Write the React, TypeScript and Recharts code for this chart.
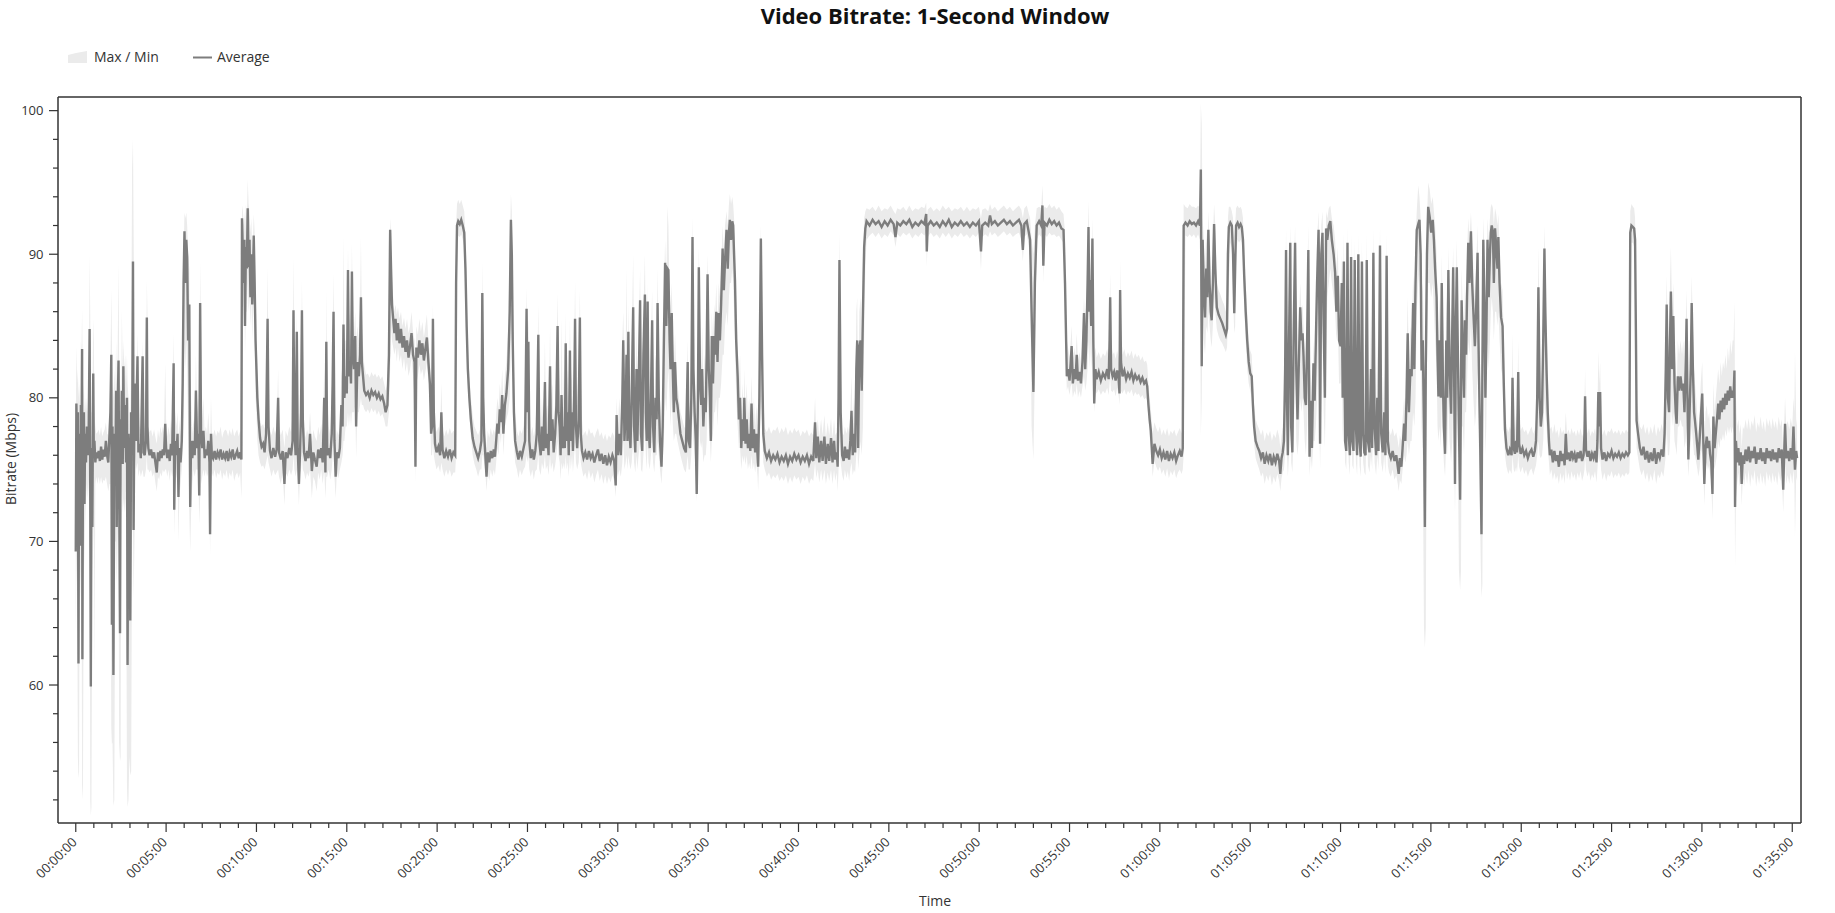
import React from "react";
import { ComposedChart, Area, Line, XAxis, YAxis } from "recharts";

// seconds from start of stream
const seconds = [
  0, 2, 5, 7, 9, 11, 13, 15, 17, 19,
  21, 22, 24, 27, 29, 31, 34, 37, 40, 43,
  46, 48, 50, 52, 55, 58, 60, 62, 65, 68,
  72, 76, 80, 84, 88, 92, 96, 100, 104, 108,
  112, 115, 118, 120, 122, 125, 128, 131, 134, 136,
  139, 142, 144, 147, 149, 151, 153, 156, 158, 161,
  164, 167, 170, 172, 175, 178, 181, 184, 187, 190,
  192, 195, 197, 200, 205, 208, 212, 216, 222, 225,
  229, 233, 236, 238, 241, 245, 250, 255, 260, 265,
  269, 273, 277, 281, 285, 289, 293, 297, 300, 304,
  308, 312, 316, 320, 325, 327, 330, 334, 338, 341,
  344, 348, 352, 355, 358, 361, 364, 367, 370, 373,
  377, 380, 383, 387, 391, 395, 399, 403, 407, 410,
  413, 416, 420, 424, 428, 432, 436, 440, 444, 446,
  449, 452, 456, 461, 466, 471, 476, 481, 486, 491,
  496, 501, 506, 511, 516, 521, 526, 531, 536, 541,
  546, 550, 552, 555, 558, 560, 562, 565, 568, 571,
  574, 577, 580, 583, 586, 589, 591, 594, 597, 600,
  603, 607, 612, 617, 622, 627, 632, 637, 640, 645,
  650, 656, 662, 667, 672, 675, 681, 687, 693, 697,
  703, 709, 715, 720, 723, 726, 730, 734, 737, 741,
  745, 748, 751, 754, 758, 763, 768, 773, 778, 784,
  789, 794, 800, 805, 810, 815, 820, 825, 829, 832,
  835, 840, 845, 850, 853, 856, 859, 863, 867, 872,
  877, 882, 886, 889, 892, 896, 900, 904, 907, 911,
  914, 917, 920, 924, 928, 931, 935, 940, 944, 947,
  950, 954, 958, 964, 970, 976, 982, 988, 994, 1000,
  1006, 1012, 1018, 1024, 1029, 1035, 1040, 1044, 1047, 1050,
  1054, 1058, 1062, 1066, 1070, 1075, 1080, 1085, 1090, 1095,
  1100, 1105, 1110, 1115, 1120, 1125, 1128, 1131, 1136, 1141,
  1146, 1151, 1156, 1161, 1166, 1171, 1176, 1180, 1183, 1186,
  1189, 1193, 1198, 1204, 1210, 1214, 1218, 1224, 1230, 1236,
  1242, 1248, 1254, 1260, 1263, 1266, 1270, 1275, 1280, 1285,
  1290, 1294, 1298, 1302, 1307, 1312, 1318, 1324, 1330, 1336,
  1342, 1347, 1350, 1353, 1356, 1360, 1364, 1368, 1373, 1378,
  1383, 1388, 1392, 1396, 1400, 1404, 1408, 1412, 1416, 1420,
  1425, 1430, 1436, 1441, 1445, 1448, 1451, 1455, 1459, 1465,
  1470, 1475, 1481, 1487, 1492, 1497, 1500, 1503, 1506, 1511,
  1516, 1521, 1526, 1531, 1536, 1539, 1544, 1548, 1553, 1558,
  1561, 1566, 1570, 1575, 1578, 1583, 1587, 1592, 1596, 1600,
  1603, 1607, 1610, 1613, 1617, 1621, 1624, 1627, 1630, 1634,
  1637, 1641, 1644, 1648, 1651, 1655, 1658, 1661, 1665, 1670,
  1674, 1677, 1681, 1686, 1692, 1698, 1704, 1710, 1716, 1722,
  1728, 1734, 1740, 1746, 1752, 1758, 1764, 1770, 1776, 1782,
  1788, 1793, 1796, 1800, 1805, 1810, 1815, 1818, 1822, 1826,
  1829, 1832, 1835, 1838, 1842, 1846, 1851, 1854, 1858, 1862,
  1865, 1869, 1874, 1877, 1881, 1885, 1890, 1893, 1896, 1899,
  1902, 1906, 1910, 1914, 1917, 1921, 1925, 1929, 1932, 1936,
  1940, 1945, 1949, 1953, 1957, 1961, 1965, 1968, 1972, 1975,
  1979, 1983, 1986, 1990, 1994, 1998, 2003, 2008, 2014, 2020,
  2026, 2032, 2035, 2040, 2044, 2048, 2051, 2055, 2059, 2062,
  2066, 2069, 2073, 2077, 2080, 2084, 2088, 2092, 2095, 2098,
  2102, 2106, 2109, 2112, 2116, 2120, 2123, 2127, 2131, 2135,
  2139, 2143, 2148, 2152, 2156, 2161, 2165, 2169, 2172, 2176,
  2180, 2183, 2186, 2189, 2193, 2198, 2202, 2206, 2210, 2214,
  2218, 2220, 2224, 2228, 2232, 2236, 2240, 2244, 2248, 2252,
  2256, 2260, 2264, 2266, 2270, 2275, 2279, 2283, 2288, 2295,
  2302, 2309, 2316, 2323, 2330, 2337, 2344, 2351, 2358, 2365,
  2372, 2379, 2386, 2393, 2400, 2407, 2414, 2421, 2428, 2435,
  2442, 2449, 2455, 2459, 2464, 2469, 2475, 2480, 2486, 2491,
  2497, 2502, 2508, 2513, 2518, 2522, 2527, 2530, 2533, 2536,
  2540, 2545, 2550, 2554, 2559, 2564, 2568, 2572, 2576, 2580,
  2584, 2588, 2592, 2595, 2598, 2602, 2606, 2610, 2614, 2618,
  2622, 2626, 2636, 2646, 2656, 2666, 2676, 2686, 2696, 2706,
  2716, 2722, 2728, 2738, 2748, 2758, 2768, 2778, 2788, 2798,
  2808, 2818, 2824, 2826, 2829, 2839, 2849, 2859, 2869, 2879,
  2889, 2899, 2909, 2919, 2929, 2939, 2949, 2959, 2969, 2979,
  2989, 2999, 3006, 3010, 3020, 3030, 3036, 3042, 3052, 3062,
  3072, 3082, 3092, 3102, 3112, 3122, 3132, 3140, 3145, 3150,
  3158, 3165, 3169, 3174, 3180, 3185, 3191, 3199, 3206, 3210,
  3213, 3217, 3225, 3233, 3241, 3249, 3257, 3265, 3273, 3280,
  3285, 3291, 3295, 3300, 3304, 3307, 3311, 3316, 3320, 3324,
  3328, 3333, 3338, 3343, 3348, 3352, 3356, 3360, 3363, 3366,
  3368, 3372, 3376, 3379, 3382, 3386, 3390, 3397, 3404, 3411,
  3418, 3425, 3430, 3433, 3435, 3438, 3443, 3448, 3453, 3458,
  3463, 3466, 3468, 3471, 3476, 3482, 3488, 3494, 3500, 3506,
  3512, 3518, 3524, 3530, 3536, 3542, 3548, 3554, 3558, 3562,
  3566, 3570, 3576, 3582, 3588, 3594, 3600, 3606, 3612, 3618,
  3624, 3630, 3636, 3642, 3648, 3654, 3660, 3666, 3672, 3676,
  3679, 3685, 3692, 3699, 3706, 3713, 3720, 3727, 3733, 3736,
  3739, 3742, 3746, 3750, 3754, 3758, 3761, 3765, 3769, 3772,
  3776, 3780, 3784, 3789, 3795, 3801, 3807, 3813, 3819, 3823,
  3826, 3829, 3834, 3839, 3843, 3847, 3850, 3853, 3858, 3863,
  3868, 3872, 3876, 3880, 3885, 3890, 3895, 3900, 3905, 3909,
  3913, 3918, 3924, 3930, 3936, 3942, 3948, 3954, 3960, 3966,
  3972, 3978, 3984, 3990, 3996, 4000, 4004, 4008, 4012, 4016,
  4019, 4022, 4025, 4029, 4033, 4036, 4040, 4044, 4049, 4053,
  4057, 4061, 4066, 4070, 4074, 4077, 4081, 4085, 4089, 4093,
  4097, 4101, 4105, 4110, 4114, 4118, 4122, 4127, 4130, 4132,
  4136, 4140, 4144, 4148, 4152, 4156, 4161, 4166, 4171, 4177,
  4182, 4186, 4191, 4195, 4200, 4204, 4207, 4211, 4215, 4219,
  4223, 4227, 4231, 4235, 4239, 4243, 4247, 4251, 4255, 4259,
  4263, 4267, 4271, 4275, 4279, 4283, 4287, 4291, 4296, 4301,
  4305, 4309, 4313, 4318, 4322, 4326, 4331, 4335, 4340, 4345,
  4349, 4353, 4357, 4361, 4367, 4373, 4379, 4385, 4390, 4393,
  4397, 4402, 4406, 4411, 4415, 4419, 4423, 4427, 4432, 4436,
  4441, 4445, 4449, 4453, 4458, 4462, 4466, 4469, 4473, 4477,
  4480, 4483, 4487, 4491, 4496, 4501, 4506, 4510, 4514, 4519,
  4522, 4525, 4529, 4533, 4536, 4540, 4543, 4547, 4551, 4554,
  4558, 4562, 4567, 4571, 4574, 4577, 4580, 4583, 4586, 4589,
  4593, 4597, 4600, 4602, 4606, 4610, 4613, 4617, 4620, 4624,
  4628, 4633, 4637, 4641, 4646, 4650, 4655, 4658, 4661, 4663,
  4666, 4668, 4671, 4674, 4678, 4681, 4684, 4688, 4692, 4696,
  4699, 4702, 4706, 4709, 4713, 4717, 4721, 4724, 4728, 4733,
  4738, 4742, 4746, 4751, 4757, 4762, 4768, 4771, 4775, 4779,
  4783, 4786, 4790, 4793, 4798, 4804, 4810, 4816, 4822, 4828,
  4834, 4840, 4845, 4849, 4853, 4857, 4861, 4865, 4869, 4873,
  4877, 4880, 4884, 4888, 4892, 4895, 4900, 4905, 4910, 4915,
  4920, 4925, 4930, 4935, 4940, 4944, 4948, 4952, 4957, 4962,
  4967, 4972, 4977, 4982, 4987, 4992, 4997, 5002, 5007, 5010,
  5012, 5015, 5020, 5025, 5030, 5035, 5040, 5045, 5050, 5053,
  5056, 5059, 5062, 5065, 5070, 5076, 5082, 5088, 5094, 5100,
  5106, 5112, 5118, 5124, 5130, 5136, 5142, 5148, 5154, 5159,
  5162, 5166, 5171, 5175, 5178, 5181, 5183, 5188, 5194, 5200,
  5206, 5212, 5218, 5224, 5230, 5236, 5242, 5248, 5254, 5260,
  5266, 5272, 5276, 5280, 5283, 5287, 5291, 5294, 5297, 5301,
  5305, 5309, 5313, 5316, 5320, 5324, 5329, 5334, 5338, 5342,
  5346, 5349, 5352, 5355, 5359, 5363, 5366, 5370, 5374, 5377,
  5381, 5385, 5388, 5392, 5396, 5401, 5404, 5408, 5412, 5416,
  5420, 5424, 5427, 5431, 5435, 5438, 5442, 5446, 5450, 5454,
  5458, 5462, 5466, 5470, 5474, 5478, 5482, 5486, 5490, 5494,
  5498, 5502, 5505, 5508, 5510, 5513, 5517, 5521, 5525, 5529,
  5532, 5536, 5540, 5545, 5550, 5555, 5560, 5565, 5570, 5575,
  5580, 5585, 5590, 5595, 5600, 5605, 5610, 5615, 5620, 5625,
  5630, 5635, 5640, 5645, 5650, 5655, 5660, 5665, 5670, 5673,
  5676, 5680, 5685, 5690, 5695, 5700, 5704, 5707, 5709, 5713,
  5716,
];

const avgMbps = [
  69.3, 79.6, 76.0, 79.0, 61.5, 77.5, 75.5, 69.7, 79.5, 76.0,
  83.4, 61.8, 76.5, 79.0, 72.6, 77.5, 75.5, 78.0, 76.0, 77.8,
  84.8, 74.0, 59.9, 76.5, 71.0, 81.7, 76.0, 77.0, 75.5, 76.2,
  75.8, 76.3, 75.6, 76.6, 75.7, 76.4, 75.9, 77.0, 76.0, 75.5,
  77.5, 79.0, 83.0, 64.2, 78.0, 60.7, 77.5, 74.0, 80.5, 71.0,
  79.0, 82.6, 74.1, 63.6, 78.5, 76.0, 80.5, 75.4, 82.2, 76.5,
  79.5, 75.5, 80.0, 61.4, 77.5, 76.0, 64.5, 79.0, 76.0, 89.5,
  70.8, 80.0, 81.0, 77.0, 82.9, 76.2, 76.8, 75.8, 82.9, 76.2,
  76.0, 77.0, 85.6, 78.0, 76.5, 76.0, 76.4, 75.8, 76.2, 75.4,
  74.8, 76.2, 75.6, 76.3, 75.8, 76.4, 76.0, 78.2, 76.5, 75.8,
  76.4, 75.6, 76.8, 76.0, 82.4, 72.2, 77.0, 76.0, 77.5, 73.1,
  76.5, 75.5, 77.0, 81.0, 88.0, 91.6, 88.0, 91.0, 89.8, 84.0,
  86.5, 72.4, 77.0, 75.8, 77.0, 76.0, 80.5, 76.5, 77.5, 73.2,
  86.6, 77.7, 76.5, 77.7, 75.8, 76.4, 76.0, 77.0, 75.5, 70.5,
  77.5, 76.0, 75.8, 76.3, 75.7, 76.2, 75.9, 76.4, 75.7, 76.1,
  75.8, 76.3, 75.6, 76.2, 75.9, 76.4, 75.7, 76.0, 76.3, 75.8,
  76.2, 75.7, 92.5, 90.0, 88.0, 91.0, 85.0, 90.5, 89.0, 93.2,
  89.1, 91.0, 87.0, 90.0, 86.5, 89.0, 91.3, 88.0, 84.0, 82.0,
  80.0, 78.5, 77.2, 76.6, 76.8, 76.2, 77.5, 85.5, 78.0, 76.3,
  75.8, 76.5, 75.9, 76.4, 80.0, 76.2, 75.7, 76.3, 74.0, 76.2,
  75.8, 76.5, 76.0, 77.0, 86.1, 78.0, 76.0, 84.6, 76.5, 74.0,
  76.4, 79.0, 86.1, 78.5, 76.2, 75.6, 76.3, 75.8, 77.5, 74.9,
  76.2, 75.7, 75.2, 76.4, 75.8, 76.5, 75.5, 80.0, 74.8, 83.9,
  76.0, 76.5, 75.8, 77.5, 81.0, 86.0, 77.0, 74.5, 76.2, 75.8,
  76.5, 79.5, 78.0, 85.1, 80.0, 81.5, 80.3, 88.9, 81.5, 82.5,
  81.0, 88.8, 83.0, 82.0, 84.3, 78.0, 82.5, 81.5, 83.0, 87.0,
  82.5, 81.5, 80.5, 80.2, 80.4, 80.0, 80.5, 80.2, 80.4, 80.0,
  80.3, 79.9, 80.1, 79.6, 79.0, 79.5, 83.0, 91.7, 89.0, 86.5,
  85.5, 84.5, 85.5, 84.0, 85.2, 83.8, 84.8, 83.5, 84.3, 83.2,
  84.0, 82.8, 83.6, 84.5, 83.0, 82.5, 75.2, 83.5, 82.8, 84.0,
  83.0, 83.8, 82.6, 83.4, 84.2, 82.5, 81.0, 77.5, 78.0, 85.5,
  79.0, 76.8, 76.2, 76.6, 76.0, 79.0, 76.4, 75.8, 76.3, 75.9,
  76.4, 75.8, 76.2, 76.0, 88.0, 92.0, 92.3, 92.1, 92.4, 92.0,
  91.5, 89.0, 85.0, 82.0, 80.0, 78.5, 77.2, 76.6, 76.2, 75.8,
  76.3, 77.0, 87.3, 80.0, 77.5, 76.0, 74.5, 76.2, 75.5, 76.3,
  75.8, 76.4, 75.9, 77.0, 78.2, 77.5, 79.2, 78.3, 80.2, 77.5,
  79.5, 80.3, 82.0, 86.0, 92.4, 90.0, 84.0, 79.0, 77.0, 76.2,
  75.7, 76.3, 75.9, 76.5, 77.0, 86.2, 79.0, 83.9, 77.0, 75.8,
  76.4, 75.7, 76.3, 77.5, 84.4, 77.0, 76.0, 78.0, 76.3, 81.1,
  76.5, 77.5, 76.0, 82.2, 77.0, 78.5, 76.2, 77.5, 79.5, 85.0,
  79.0, 78.0, 76.0, 80.2, 76.5, 78.0, 76.5, 83.8, 77.0, 79.0,
  76.0, 83.3, 77.0, 79.0, 76.3, 80.0, 85.5, 78.0, 76.5, 78.5,
  85.6, 77.5, 76.3, 75.8, 76.2, 75.7, 76.3, 75.8, 76.1, 75.5,
  76.0, 76.4, 75.6, 76.1, 75.4, 76.0, 75.3, 75.9, 75.5, 76.0,
  75.6, 73.9, 78.8, 76.0, 77.5, 76.0, 80.0, 84.0, 77.0, 79.0,
  83.0, 77.0, 84.6, 78.0, 76.5, 80.0, 86.3, 78.0, 76.2, 82.0,
  77.0, 80.5, 86.8, 77.5, 76.3, 83.0, 87.2, 79.0, 77.0, 86.7,
  78.0, 76.5, 80.0, 85.4, 78.0, 76.2, 80.0, 78.5, 86.6, 80.0,
  77.0, 75.2, 78.0, 84.0, 89.4, 85.0, 89.0, 88.9, 84.0, 82.0,
  85.9, 81.5, 79.0, 82.5, 80.0, 79.5, 78.5, 77.5, 77.0, 76.5,
  76.2, 82.5, 77.0, 76.5, 80.0, 91.2, 82.0, 79.0, 77.0, 73.3,
  80.0, 89.1, 81.0, 79.5, 82.0, 78.0, 80.0, 79.0, 83.0, 88.6,
  82.0, 80.0, 77.0, 84.3, 81.0, 84.3, 83.0, 86.0, 82.5, 85.9,
  84.0, 86.5, 90.4, 87.5, 89.5, 91.7, 89.0, 91.5, 92.4, 91.0,
  92.3, 92.0, 90.0, 88.2, 84.0, 81.5, 78.5, 80.0, 76.5, 78.5,
  77.0, 80.0, 76.8, 78.5, 76.5, 77.5, 76.3, 79.6, 76.5, 77.8,
  76.2, 77.5, 76.0, 75.2, 80.0, 91.1, 83.0, 77.5, 76.3, 75.8,
  76.2, 75.6, 76.0, 75.7, 76.1, 75.5, 75.9, 75.6, 76.0, 75.4,
  75.9, 75.6, 76.1, 75.7, 76.0, 75.5, 75.9, 75.6, 76.0, 75.4,
  75.9, 75.6, 78.3, 75.8, 77.3, 75.5, 77.0, 75.6, 77.3, 75.4,
  76.8, 75.6, 77.2, 75.5, 77.0, 75.7, 76.2, 75.2, 80.0, 89.6,
  79.0, 76.0, 75.6, 76.6, 75.8, 76.4, 75.7, 77.0, 79.1, 76.0,
  77.5, 76.2, 82.0, 84.0, 76.5, 83.5, 84.0, 80.5, 86.0, 90.5,
  91.8, 92.3, 92.0, 92.4, 92.1, 92.3, 91.9, 92.3, 92.0, 92.4,
  92.1, 91.2, 92.2, 92.0, 92.3, 92.1, 92.4, 91.9, 92.2, 92.0,
  92.3, 92.1, 92.8, 90.2, 92.0, 92.3, 92.0, 92.2, 91.9, 92.3,
  92.0, 92.4, 91.9, 92.2, 92.0, 92.3, 92.0, 92.2, 91.9, 92.2,
  92.0, 92.3, 90.2, 92.0, 92.2, 92.0, 92.7, 92.1, 92.3, 92.0,
  92.2, 92.4, 92.1, 92.3, 92.0, 92.2, 92.4, 92.0, 90.3, 92.1,
  92.3, 91.5, 91.0, 86.0, 80.4, 88.0, 92.0, 92.3, 92.0, 93.4,
  89.2, 92.2, 92.0, 92.4, 92.1, 92.3, 92.0, 92.2, 91.8, 91.7,
  88.0, 81.5, 82.0, 81.2, 82.5, 83.6, 81.0, 82.0, 81.3, 83.0,
  81.2, 81.8, 81.0, 82.5, 85.9, 82.0, 84.0, 88.0, 91.9, 86.0,
  88.2, 85.0, 91.1, 84.0, 79.6, 82.0, 81.3, 81.8, 81.2, 81.7,
  81.4, 82.0, 81.3, 84.0, 87.0, 82.0, 81.5, 81.8, 81.2, 81.9,
  81.3, 80.3, 87.5, 82.5, 81.5, 81.9, 81.3, 81.7, 81.4, 81.8,
  81.2, 81.6, 81.3, 81.5, 81.1, 81.4, 81.0, 81.2, 80.8, 79.5,
  78.5, 77.7, 75.4, 76.8, 76.3, 76.0, 76.4, 75.8, 76.2, 75.7,
  76.3, 75.6, 76.1, 75.8, 76.2, 75.6, 76.0, 76.3, 75.9, 76.5,
  92.0, 92.2, 92.0, 92.3, 92.1, 92.2, 92.0, 92.3, 92.0, 95.9,
  82.2, 91.0, 87.5, 85.6, 89.0, 87.0, 91.7, 88.0, 86.0, 85.4,
  88.0, 92.1, 89.0, 86.3, 85.8, 85.5, 85.2, 84.8, 84.4, 84.8,
  90.0, 91.9, 92.2, 92.0, 90.0, 85.9, 89.0, 92.0, 92.2, 91.9,
  92.1, 91.9, 91.0, 88.5, 86.0, 84.0, 82.5, 81.7, 81.5, 79.5,
  78.0, 77.0, 76.6, 76.3, 75.8, 76.2, 75.4, 76.0, 75.6, 76.1,
  75.3, 75.9, 75.5, 76.1, 75.6, 74.7, 75.8, 76.2, 77.0, 82.0,
  90.3, 80.0, 76.0, 84.0, 90.8, 78.0, 76.2, 84.0, 90.8, 82.0,
  78.5, 82.0, 86.3, 84.0, 84.5, 82.9, 80.0, 79.5, 84.0, 90.3,
  75.9, 79.8, 76.5, 82.4, 79.8, 84.0, 88.0, 91.7, 85.0, 76.8,
  90.0, 91.5, 85.0, 80.0, 91.8, 91.0, 92.0, 92.3, 91.0, 90.0,
  88.7, 86.0, 88.5, 84.0, 83.6, 88.0, 80.0, 89.5, 77.0, 76.3,
  90.8, 77.5, 76.0, 89.8, 77.0, 76.3, 89.6, 78.0, 76.0, 90.0,
  77.0, 75.9, 89.5, 77.5, 76.2, 76.0, 89.6, 77.0, 76.2, 82.0,
  76.5, 90.1, 78.0, 76.0, 80.0, 76.3, 90.6, 77.5, 76.2, 79.0,
  76.0, 89.9, 77.0, 76.2, 75.8, 76.3, 75.6, 76.0, 75.2, 74.7,
  75.8, 75.2, 76.5, 78.2, 77.0, 80.0, 84.5, 79.0, 82.0, 81.5,
  86.6, 82.0, 88.0, 91.7, 92.1, 92.4, 90.0, 81.9, 84.0, 78.0,
  71.0, 82.0, 90.0, 93.3, 92.6, 91.5, 92.4, 91.0, 89.0, 87.0,
  83.0, 80.1, 84.0, 80.0, 88.0, 81.0, 78.0, 76.1, 84.0, 80.0,
  88.9, 82.0, 78.9, 85.0, 89.1, 82.0, 74.0, 85.0, 89.1, 84.0,
  78.0, 72.9, 81.0, 86.8, 83.0, 80.0, 85.4, 83.0, 87.0, 90.8,
  88.0, 91.6, 88.0, 86.0, 83.6, 86.0, 90.1, 84.0, 80.0, 77.8,
  73.5, 70.5, 82.0, 91.0, 86.0, 80.0, 84.0, 91.0, 87.0, 90.0,
  91.5, 92.0, 91.5, 88.0, 91.8, 90.5, 89.0, 91.2, 88.0, 85.6,
  85.0, 81.0, 77.8, 76.5, 76.0, 76.4, 76.0, 81.4, 76.5, 76.1,
  77.0, 76.2, 81.8, 76.8, 76.1, 76.5, 76.0, 76.3, 75.8, 76.2,
  76.4, 75.9, 76.3, 77.0, 80.0, 87.7, 80.0, 78.0, 79.0, 84.0,
  90.4, 86.0, 81.9, 79.0, 77.0, 76.0, 76.4, 75.5, 76.3, 75.6,
  76.0, 75.2, 76.3, 75.6, 76.1, 75.3, 77.5, 75.7, 76.2, 75.6,
  76.3, 75.8, 76.1, 75.5, 76.2, 75.8, 76.3, 75.6, 76.0, 77.5,
  80.1, 76.4, 75.9, 76.3, 75.6, 76.1, 75.8, 76.3, 75.5, 77.0,
  80.4, 78.0, 80.4, 76.5, 75.7, 76.2, 75.6, 76.1, 75.9, 76.3,
  75.8, 76.1, 75.9, 76.2, 75.8, 76.1, 75.9, 76.2, 76.0, 76.2,
  91.5, 92.0, 91.9, 91.8, 91.0, 84.0, 78.4, 77.5, 76.5, 76.0,
  76.6, 75.7, 76.3, 75.5, 76.2, 75.6, 76.5, 75.4, 76.2, 75.8,
  76.4, 75.9, 77.5, 82.0, 86.5, 80.0, 79.0, 84.0, 87.4, 82.0,
  85.7, 81.0, 79.0, 78.2, 81.5, 80.5, 81.5, 80.5, 81.0, 79.0,
  82.0, 85.5, 80.0, 75.7, 79.0, 82.0, 86.6, 82.0, 79.0, 78.4,
  77.5, 76.5, 75.7, 77.0, 78.5, 80.3, 77.5, 74.0, 76.5, 77.3,
  76.5, 77.0, 76.1, 75.5, 73.3, 78.7, 76.5, 77.5, 78.5, 79.6,
  78.5, 79.8, 79.0, 80.0, 79.2, 80.3, 79.5, 80.5, 79.8, 80.8,
  80.0, 80.5, 80.0, 81.9, 72.4, 77.0, 75.5, 76.5, 75.3, 76.2,
  74.0, 76.0, 75.4, 76.4, 75.6, 76.6, 75.5, 76.3, 75.8, 76.6,
  75.4, 76.2, 75.7, 76.5, 75.6, 76.2, 75.4, 76.5, 75.8, 76.3,
  75.6, 76.4, 75.7, 76.2, 75.5, 76.5, 75.8, 76.4, 73.6, 76.0,
  78.2, 75.8, 76.3, 75.6, 76.5, 75.7, 78.0, 76.0, 75.0, 76.3,
  75.8,
];

const minMbps = [
  63.5, 69, 66, 55, 53.5, 54, 70, 66, 68, 70,
  53, 52, 53, 72, 68, 71, 73, 74, 73, 74,
  75, 52, 50.9, 51.5, 67, 70, 72, 60.7, 74, 74.5,
  74, 74.5, 74, 74.5, 74, 74.3, 74.2, 74.5, 74, 73.5,
  74, 74, 57, 55.9, 56, 51.6, 52, 70, 70, 67,
  70, 72, 56, 54.7, 55, 73, 74, 72, 73, 72,
  73, 72, 53, 51.5, 52, 55, 53.7, 54, 71, 70.8,
  66, 70, 76, 75, 75.5, 74.5, 75, 74.5, 75, 74.5,
  74.5, 75, 76, 75, 75, 74.8, 75, 74.5, 74.8, 74,
  73.5, 74.5, 74.3, 74.8, 74.5, 75, 74.8, 75, 75, 74.5,
  75, 74.2, 75, 74.5, 75, 70.4, 74, 74.5, 75, 70,
  73, 74, 75, 76, 78, 84, 82, 84, 82, 78,
  72, 69.3, 72, 74, 75, 74.5, 75, 75, 75, 71.2,
  73, 74, 74.5, 75, 74.5, 75, 74.5, 74.8, 73, 69,
  74.5, 74.8, 74.5, 75, 74.4, 74.8, 74.6, 75, 74.3, 74.8,
  74.5, 75, 74.3, 74.8, 74.5, 75, 74.2, 74.6, 74.8, 74.4,
  74.8, 73, 75, 88, 85, 87, 83, 86, 86, 88,
  86, 87, 85, 87, 84, 86, 87, 85, 80, 79,
  77, 76, 75.5, 75.2, 75.3, 75, 75.5, 76, 75.5, 75,
  74.5, 75, 74.6, 74.8, 75, 74.5, 74, 74.8, 72.5, 74.8,
  74.5, 75, 74.6, 75, 76, 75, 74.5, 75, 74.5, 72.5,
  74.8, 75, 76, 75, 74.8, 74.3, 74.8, 74.5, 75, 73,
  74.5, 74.2, 73.5, 74.8, 74.3, 75, 74, 75, 73, 74.5,
  74.5, 75, 74.3, 75, 76, 77, 74.5, 73, 74.8, 74.4,
  75, 75.5, 76, 77, 77, 78, 78, 79, 78, 79,
  78, 79, 79, 79, 79.5, 75.8, 79, 79, 79.5, 80,
  79.5, 79.5, 79.2, 79, 79.2, 78.9, 79.3, 79, 79.2, 78.8,
  79.1, 78.7, 78.9, 78.5, 78, 78, 79, 82, 85, 84,
  83.5, 83, 83.5, 82.5, 83.5, 82.5, 83, 82, 82.8, 81.8,
  82.5, 81.5, 82, 82.8, 81.5, 80, 74, 81, 81.5, 82.3,
  81.6, 82, 81.2, 81.8, 82.5, 81, 79.5, 76, 76, 77,
  76, 75.5, 75, 75.3, 74.8, 75.5, 75, 74.5, 75, 74.6,
  75, 74.5, 74.8, 74.8, 76, 89, 91.3, 91.2, 91.4, 91,
  90.5, 87, 83, 80.5, 78.8, 77.3, 76, 75.4, 75, 74.5,
  75, 75, 76, 76, 75.5, 74.8, 73.5, 74.8, 74.2, 75,
  74.5, 75, 74.6, 75.5, 76.5, 76, 77.5, 76.8, 78.5, 76,
  78, 78.5, 79, 80, 84, 85, 80, 77, 75.5, 75,
  74.4, 75, 74.6, 75, 75.2, 76, 75.5, 76, 75, 74.5,
  75, 74.3, 74.9, 75, 76, 75, 74.6, 75.5, 75, 76,
  75, 75.3, 74.6, 76, 75, 75.5, 74.8, 75.3, 76, 77,
  76, 75.5, 74.3, 75.5, 75, 75.5, 75, 76, 75, 75.5,
  74.5, 76, 75, 76, 74.8, 76, 77, 75.5, 75, 75.5,
  77, 75.5, 75, 74.5, 74.8, 74.3, 75, 74.4, 74.8, 74.1,
  74.6, 75, 74.2, 74.7, 74, 74.6, 74, 74.5, 74.1, 74.6,
  74.2, 73.1, 75, 74.5, 75, 74.5, 75.5, 77, 75, 75.5,
  76, 75, 76, 75.5, 75, 75.5, 77, 75.5, 74.8, 76,
  75, 76, 77, 75, 74.8, 76, 78, 76, 75, 77,
  75.5, 75, 76, 77, 75.5, 74.8, 76, 76, 77, 76,
  75, 74, 75.5, 77, 80, 79, 81, 82, 80, 78,
  80, 78, 77, 77.5, 77.5, 77, 76.5, 76, 75.5, 75,
  74.8, 76, 75, 75, 76, 79, 77, 76, 75, 72.8,
  75, 79, 77, 76.5, 77, 75.5, 76, 76, 77, 80,
  78, 77, 75.5, 77, 77.5, 79, 79, 80, 78, 80,
  80, 81, 83, 83, 85, 86, 85, 87, 88, 88,
  89, 88, 86, 84, 80, 78, 76.5, 76.5, 75, 76,
  75.5, 76, 75.3, 76, 75, 75.5, 75, 76, 75, 75.5,
  74.8, 75.5, 74.5, 73.5, 76, 80, 78, 75.5, 75, 74.5,
  74.8, 74.3, 74.6, 74.4, 74.7, 74.2, 74.5, 74.2, 74.6, 74,
  74.5, 74.1, 74.6, 74.3, 74.5, 74, 74.5, 74.2, 74.6, 74,
  74.4, 74.2, 75.5, 74.4, 75, 74.1, 75, 74.2, 75, 74,
  74.8, 74.2, 75, 74, 75, 74.2, 74.8, 73.5, 75, 78,
  75.5, 74.6, 74.2, 75, 74.4, 74.9, 74.2, 75, 75.5, 74.6,
  75, 74.8, 76, 77, 75, 76, 77, 76, 78, 84,
  89, 91, 91.3, 91.5, 91.2, 91.5, 91.1, 91.4, 91.2, 91.6,
  91.3, 90.5, 91.4, 91.2, 91.5, 91.3, 91.5, 91.1, 91.4, 91.2,
  91.5, 91.3, 91.5, 89.1, 91.2, 91.5, 91.2, 91.4, 91.1, 91.5,
  91.2, 91.5, 91.1, 91.4, 91.2, 91.5, 91.2, 91.4, 91.1, 91.4,
  91.2, 91.5, 88.9, 91.2, 91.4, 91.2, 91.6, 91.3, 91.5, 91.2,
  91.4, 91.6, 91.3, 91.5, 91.2, 91.4, 91.5, 91.0, 89.5, 91.2,
  91.4, 90.5, 89.5, 78, 75.7, 82, 91, 91.4, 91.2, 91.5,
  88, 91.4, 91.2, 91.5, 91.3, 91.4, 91.2, 91.3, 91, 90.8,
  85, 80.5, 80.8, 80.2, 80.8, 81, 80, 80.5, 80.2, 81,
  80, 80.5, 80, 80.8, 81.5, 80.5, 81, 82, 84, 82,
  84, 82, 84, 81, 79, 80.5, 80.3, 80.6, 80.2, 80.5,
  80.3, 80.7, 80.2, 81, 81.5, 80.5, 80.4, 80.6, 80.1, 80.7,
  80.2, 79.5, 81, 80.5, 80.3, 80.6, 80.2, 80.5, 80.3, 80.6,
  80.1, 80.4, 80.2, 80.3, 80, 80.2, 79.9, 80, 79.8, 78.5,
  77.3, 76.5, 74.5, 75.6, 75.2, 74.9, 75.2, 74.7, 75, 74.5,
  75.1, 74.4, 74.9, 74.6, 75, 74.4, 74.8, 75, 74.7, 75,
  76, 91.3, 91.2, 91.4, 91.2, 91.4, 91.1, 91.4, 91, 77.3,
  80, 86, 84, 83, 85, 84.5, 86, 85, 84, 83.5,
  85, 87, 86, 84.8, 84.3, 84, 83.8, 83.5, 83.2, 83.5,
  85, 88, 90.8, 90.5, 87, 84.5, 85, 90, 91, 90.8,
  91, 90.8, 89.5, 86.5, 84, 82, 81, 80.5, 80, 78,
  76.8, 75.8, 75.4, 75, 74.5, 74.8, 74, 74.6, 74.2, 74.7,
  73.9, 74.5, 74.1, 74.7, 74.2, 73.5, 74.4, 74.8, 75, 76,
  80, 76, 74.5, 76, 82, 75.5, 74.8, 77, 82, 77,
  76, 77, 80, 79, 80, 79, 77, 76, 78, 82,
  74.5, 76, 75, 77, 77, 78, 80, 85, 78, 75,
  80, 87, 79, 76.5, 82, 87, 88, 89, 88, 87,
  86, 84, 85, 81, 81, 83, 77, 80, 75.5, 75,
  79, 75.5, 74.6, 79, 75.3, 75, 79, 75.5, 74.6, 79,
  75.3, 74.5, 79, 75.5, 74.8, 74.6, 79, 75.3, 74.8, 76,
  75, 80, 75.5, 74.6, 76, 75, 80, 75.5, 74.8, 76,
  74.7, 79, 75.3, 74.8, 74.5, 75, 74.3, 74.6, 74, 73.5,
  74.3, 74, 75, 76, 75.5, 76, 77, 76, 77, 77,
  79, 78, 80, 86, 88, 89, 84, 78, 76, 64,
  62.6, 64, 82, 88, 88, 87, 88, 86, 84, 82,
  78, 77, 78, 76.5, 80, 77, 75.5, 74.5, 77, 76,
  80, 77, 75.5, 77, 80, 76, 72, 76, 80, 78,
  68, 66.6, 68, 78, 78, 76, 79, 79, 81, 84,
  83, 85, 82, 80, 78, 79, 82, 78, 75, 72,
  68, 66.1, 67, 83, 80, 76, 78, 84, 82, 84,
  86, 87, 86, 84, 86, 86, 85, 86, 84, 82,
  81.5, 78, 76, 75.2, 74.7, 75, 74.7, 76, 75, 74.8,
  75.2, 74.8, 76, 75.2, 74.8, 75.2, 74.7, 75, 74.5, 74.9,
  75.1, 74.6, 75, 75.3, 76, 77, 76, 75.8, 76, 77,
  80, 79, 78, 76.5, 75.5, 74.6, 75, 74.3, 74.8, 74.3,
  74.6, 74, 74.8, 74.2, 74.7, 74, 75.2, 74.3, 74.8, 74.2,
  74.9, 74.4, 74.7, 74.2, 74.8, 74.4, 74.9, 74.2, 74.6, 75,
  76, 75, 74.5, 74.9, 74.2, 74.7, 74.4, 74.9, 74.1, 75,
  76, 75.5, 76, 75, 74.3, 74.8, 74.2, 74.7, 74.5, 74.9,
  74.4, 74.7, 74.5, 74.8, 74.4, 74.7, 74.5, 74.8, 74.6, 74.8,
  77, 90.8, 90.8, 90.5, 89, 80, 76.5, 75.8, 75, 74.6,
  75, 74.3, 74.8, 74.1, 74.7, 74.2, 75, 74, 74.7, 74.4,
  74.9, 74.5, 75.2, 76, 78, 76, 76, 77, 80, 78,
  79, 77, 76.5, 76, 78, 78, 78.5, 78, 78, 76.5,
  77, 78, 76, 74.5, 76, 77, 78, 77, 76, 76,
  75.5, 75, 74.5, 75, 76, 76.5, 75.5, 72.5, 75, 75.5,
  75, 75.3, 74.7, 74.2, 71.5, 75.5, 75, 75.5, 76, 77,
  76.5, 77.2, 77, 77.5, 77, 77.8, 77.3, 78, 77.5, 78,
  77.5, 78, 77.5, 78, 68.2, 73, 74, 74.8, 73.8, 74.6,
  72.5, 74.5, 73.8, 74.8, 74, 75, 73.8, 74.7, 74.2, 75,
  73.8, 74.6, 74, 74.8, 74, 74.6, 73.8, 74.9, 74.2, 74.7,
  74, 74.8, 74.1, 74.6, 73.9, 74.9, 74.2, 74.6, 72, 74.2,
  75.5, 74, 74.6, 74, 74.8, 74, 75, 74, 70.3, 74.5,
  74.2,
];

const maxMbps = [
  78, 83.6, 81, 82, 80, 81, 80, 79, 84, 83,
  86.2, 84, 80, 81, 79, 80, 79, 80, 79, 80,
  90, 86, 80, 79, 79, 85.5, 84, 79, 78, 77.5,
  77.6, 77.8, 77.4, 78, 77.3, 77.6, 77.8, 78.3, 77.5, 77.4,
  79, 82, 87.6, 84, 81, 80, 82, 80, 84, 81,
  83, 89.4, 83, 80, 81, 80, 86.1, 82, 84, 82,
  83, 81, 83, 81, 80, 79, 79, 82, 96, 98,
  92, 83, 83, 80, 84.5, 80, 78, 77.8, 84, 79,
  77.5, 79, 88.2, 86, 78, 77.6, 77.8, 77.3, 77.8, 77.2,
  76.8, 77.8, 77.2, 78, 77.5, 78, 77.6, 82.4, 78.5, 77.3,
  78, 77.4, 78.5, 77.8, 84.5, 80, 79, 78, 79, 77,
  78.5, 77.3, 79, 84, 90, 92.9, 92.5, 92.9, 92, 90,
  89, 82, 80, 77.5, 78.5, 77.6, 83, 79, 80, 78,
  89.5, 84, 78.5, 80, 77.5, 78, 77.5, 79, 77.5, 76,
  80, 77.6, 77.4, 77.8, 77.3, 77.7, 77.5, 78, 77.2, 77.6,
  77.8, 77.7, 77.3, 77.8, 77.4, 77.9, 77.3, 77.6, 77.8, 77.3,
  77.7, 77.5, 93.4, 93, 92, 93, 91.5, 93.5, 92.5, 95.2,
  93.5, 93, 91.5, 92.5, 90, 91.5, 92.8, 91.5, 88, 85,
  82, 80, 78.5, 78, 78.2, 77.8, 80, 89.1, 83, 77.8,
  77.4, 78, 77.5, 77.9, 82, 78, 77.4, 77.8, 76.5, 77.7,
  77.3, 78, 77.6, 79, 89.8, 84, 78, 86, 80, 76.5,
  78, 81, 88.2, 83, 78, 77.2, 77.8, 77.4, 79, 76.8,
  77.8, 77.3, 77, 78, 77.4, 78.2, 77.3, 82, 77, 87.5,
  80, 78, 77.4, 80, 84, 88.7, 82, 77, 77.8, 77.4,
  78, 82, 81, 91.3, 84, 84, 83, 90.5, 86, 85,
  84, 90.8, 86, 84.5, 86, 84, 85, 84, 86, 91.2,
  85, 83.5, 82.3, 81.6, 81.7, 81.4, 81.8, 81.5, 81.7, 81.4,
  81.6, 81.3, 81.5, 81, 80.5, 81, 86, 92.5, 91.5, 88.5,
  87, 86, 86.5, 85.8, 86.3, 85.5, 86, 85, 85.6, 84.8,
  85.5, 84.5, 85, 86, 84.6, 84, 82, 85, 84.4, 85.5,
  84.6, 85.3, 84.2, 85, 85.8, 84, 83, 80, 81, 86.5,
  83, 78.2, 77.6, 78, 77.5, 81, 77.8, 77.3, 77.8, 77.4,
  77.9, 77.5, 77.7, 77.6, 92, 93.5, 93.8, 93.5, 93.8, 93.4,
  93, 91.5, 87.5, 84, 81.5, 80, 78.8, 78, 77.7, 77.4,
  77.8, 80, 89.5, 84, 79, 77.6, 76.5, 77.7, 77.2, 77.9,
  77.4, 77.8, 77.5, 78.8, 80, 79.2, 81, 80, 82, 79.5,
  81.5, 82.5, 85, 90, 94.2, 93, 88, 82, 79, 77.7,
  77.3, 77.8, 77.5, 78, 79.5, 87.7, 84, 85.5, 80, 77.4,
  78, 77.3, 77.9, 80, 86.5, 81, 77.6, 80, 78, 84,
  79, 79.5, 77.7, 85, 80, 81, 78, 80, 82, 87.3,
  83, 81, 78, 85.5, 79, 82, 79, 86, 80, 82,
  78, 85.5, 81, 82, 78, 83, 88.1, 83, 80, 82,
  87.5, 82, 78.5, 77.4, 77.7, 77.3, 77.9, 77.5, 77.6, 77.2,
  77.6, 77.9, 77.3, 77.6, 77.1, 77.5, 77, 77.4, 77.2, 77.6,
  77.3, 76.5, 80, 78, 80, 78, 84, 86, 82, 83,
  89, 81, 86.5, 82, 79, 84, 90, 83, 79, 85,
  80, 84, 89, 82, 79, 86, 90, 84, 80, 88,
  83, 79, 84, 87.5, 82, 79, 83, 82, 89, 84,
  80, 77, 81, 87, 91, 88, 93.3, 92, 87, 86,
  88, 84, 82, 84.5, 82, 81, 80, 79, 78.5, 78,
  77.8, 84, 80, 78, 84, 92.6, 88, 82, 80, 77,
  84, 90.5, 86, 82, 85, 81, 83, 82, 86, 90,
  86, 83, 80, 86, 84, 86.5, 85.5, 88, 85, 88,
  87, 89, 92, 90, 92, 93, 92, 93.5, 94.2, 93.5,
  94, 93.5, 92.5, 91, 87, 84, 81, 83, 78.5, 81,
  79, 82, 79, 81, 78.5, 80, 78.5, 81.5, 78.5, 80,
  78, 79.5, 78, 77, 85, 92, 87, 80, 77.9, 77.6,
  78, 77.5, 77.8, 77.7, 78, 77.5, 77.9, 77.6, 78, 77.4,
  77.8, 77.5, 77.9, 77.6, 77.8, 77.3, 77.7, 77.5, 77.8, 77.3,
  77.6, 77.4, 80, 77.5, 78.5, 77.3, 78.5, 77.4, 78.8, 77.2,
  78.3, 77.4, 78.6, 77.2, 78.5, 77.4, 77.6, 76.8, 84, 91.5,
  84, 77.6, 77.4, 78, 77.5, 78, 77.5, 79, 81.5, 78,
  80, 79, 86, 87, 80, 86, 87, 84, 90, 92.5,
  93, 93.2, 93.1, 93.3, 93.0, 93.4, 93.0, 93.2, 93.1, 93.4,
  93.0, 92.8, 93.2, 93.1, 93.3, 93.0, 93.4, 93.0, 93.2, 93.1,
  93.3, 93.2, 93.6, 92.5, 93.1, 93.3, 93.0, 93.2, 93.0, 93.4,
  93.1, 93.3, 93.0, 93.2, 93.1, 93.3, 93.0, 93.3, 93.0, 93.2,
  93.1, 93.3, 92.5, 93.1, 93.2, 93.0, 93.5, 93.1, 93.3, 93.0,
  93.2, 93.4, 93.1, 93.3, 93.0, 93.2, 93.4, 93.1, 92.5, 93.2,
  93.4, 92.8, 92.5, 91, 90, 92, 93.2, 93.3, 93.2, 94.8,
  93, 93.3, 93.2, 93.5, 93.2, 93.4, 93.1, 93.3, 93, 92.8,
  91.5, 84, 83.5, 82.8, 84, 85, 82.6, 83.5, 82.8, 84.5,
  82.6, 83.2, 82.5, 84, 87, 85, 87, 91, 93.7, 90,
  90, 88, 92.5, 88, 83, 83.5, 82.8, 83.2, 82.7, 83.1,
  82.9, 83.4, 82.8, 86, 88.7, 84, 83, 83.2, 82.7, 83.3,
  82.8, 82, 89.6, 85, 83, 83.4, 82.8, 83.2, 82.9, 83.3,
  82.7, 83.1, 82.8, 83, 82.6, 82.9, 82.5, 82.6, 82.3, 81,
  80, 79.2, 77.5, 78.3, 77.9, 77.6, 78, 77.4, 77.8, 77.4,
  77.9, 77.3, 77.7, 77.5, 77.8, 77.3, 77.6, 77.9, 77.5, 78,
  93.5, 93.3, 93.2, 93.5, 93.3, 93.3, 93.2, 93.4, 93.2, 100.5,
  99, 92.5, 91, 89, 91.5, 90, 93, 91, 88, 87,
  91, 93.5, 92, 88, 87.5, 87.2, 86.8, 86.5, 86, 86.5,
  92.5, 93.3, 93.3, 93, 92.5, 89, 92, 93.2, 93.4, 93.2,
  93.3, 93.1, 92.5, 90.5, 88, 86, 84, 83.3, 83, 81,
  79.5, 78.5, 78.1, 77.8, 77.4, 77.8, 77, 77.6, 77.3, 77.7,
  77, 77.5, 77.2, 77.8, 77.3, 76.5, 77.4, 78, 79, 86,
  91.8, 86, 78, 88, 92, 85, 78, 88, 92, 86,
  82, 85, 88, 86, 86.5, 85, 83, 82, 88, 92,
  80, 82, 79, 84, 82, 87, 91, 93, 90, 80,
  92, 93, 89, 84, 93, 92.5, 93.2, 93.4, 92.5, 92,
  91, 89, 90.5, 86, 85.5, 90, 84, 91.5, 82, 79,
  92, 83, 78.5, 91.5, 82, 79, 91, 83, 78, 91.5,
  82, 78, 91, 82, 78.5, 78, 91.5, 82, 79, 86,
  80, 91.8, 84, 78, 84, 79, 92, 83, 78.5, 82,
  78, 91.5, 82, 77.8, 77.4, 77.9, 77.3, 77.6, 77, 76.5,
  77.4, 77, 78.5, 80, 79, 83, 87, 82, 85, 84,
  88.5, 87, 91, 93, 94.8, 94, 92.5, 87, 88, 84,
  80, 88, 92.5, 95, 94.5, 93.5, 94, 93, 92, 90,
  87, 84, 87, 84, 90, 85, 83, 80, 87, 85,
  90.5, 86, 83, 88, 90.5, 86, 80, 88, 91, 87,
  82, 78, 85, 89, 86, 84, 88, 86, 90, 92.5,
  91, 92.9, 91, 89, 87, 89, 92, 88, 85, 82,
  78, 76, 88, 92.5, 90, 85, 88, 92.5, 91, 92.5,
  93.3, 93.5, 93.2, 92, 93.2, 92.8, 92, 92.8, 90.5, 88,
  87.5, 84, 80, 78, 77.6, 78, 77.6, 84.5, 78.5, 77.7,
  79, 78, 84, 79, 77.7, 78, 77.6, 77.8, 77.4, 77.7,
  78, 77.5, 77.8, 78.5, 83, 90.5, 85, 81, 82, 87,
  92, 89, 85, 82, 79, 77.8, 78, 77.5, 78.2, 77.5,
  77.8, 77.2, 78, 77.5, 77.8, 77.3, 79, 77.5, 77.8, 77.4,
  77.9, 77.5, 77.7, 77.3, 77.8, 77.4, 77.9, 77.3, 77.6, 79.5,
  82, 78.5, 77.5, 77.9, 77.3, 77.7, 77.5, 77.9, 77.2, 79,
  83.3, 81, 82.5, 78.5, 77.4, 77.8, 77.3, 77.7, 77.6, 77.9,
  77.5, 77.7, 77.5, 77.8, 77.4, 77.7, 77.5, 77.8, 77.6, 77.8,
  93, 93.5, 93.3, 93.2, 92.5, 88, 80, 79, 78, 77.8,
  78.2, 77.5, 78, 77.4, 78, 77.5, 78.2, 77.3, 78, 77.6,
  78.2, 77.6, 80, 85, 88.5, 84, 83, 88, 90.5, 86,
  88, 84, 82, 80.5, 84, 83, 84, 83, 84, 82,
  85, 87.5, 84, 78, 82, 85, 88.5, 85, 82, 81,
  80, 78.5, 77.5, 79, 81, 82.5, 80, 76.5, 79, 79.5,
  78.5, 79, 78, 77.5, 76, 81, 79, 80, 81, 82,
  81, 82.5, 81.5, 82.5, 82, 83, 82, 83.5, 82.5, 84,
  83, 84, 84, 86.7, 80, 80, 78, 78.5, 77.5, 78.2,
  76.5, 78, 77.8, 78.5, 77.8, 78.6, 77.7, 78.4, 78, 78.8,
  77.6, 78.3, 77.9, 78.7, 77.8, 78.4, 77.6, 78.6, 78, 78.5,
  77.8, 78.6, 77.9, 78.4, 77.7, 78.7, 78, 78.5, 76, 78,
  80, 78, 78.4, 77.8, 78.6, 78, 80, 79, 83.3, 78.5,
  78,
];

const xMinorTicks = Array.from({ length: 96 }, (_, i) => i * 60);
const yMinorTicks = [52, 54, 56, 58, 60, 62, 64, 66, 68, 70, 72, 74, 76, 78, 80, 82, 84, 86, 88, 90, 92, 94, 96, 98, 100];

const rows = seconds.map((t, i) => ({
  t,
  avg: avgMbps[i],
  band: [minMbps[i], maxMbps[i]],
}));

const FONT = '"Open Sans", "Noto Sans", sans-serif';
const INK = "#333";

const pad = (n: number) => String(n).padStart(2, "0");
const fmtTime = (s: number) =>
  `${pad(Math.floor(s / 3600))}:${pad(Math.floor((s % 3600) / 60))}:${pad(s % 60)}`;

function XTick(props: any) {
  const { x, y, payload } = props;
  const major = payload.value % 300 === 0;
  return (
    <g>
      <line x1={x} y1={y} x2={x} y2={y + (major ? 9 : 5)} stroke={INK} strokeWidth={1.2} />
      {major && (
        <text
          transform={`translate(${x + 2},${y + 20}) rotate(-45)`}
          textAnchor="end"
          fontSize={13}
          fontFamily={FONT}
          fill={INK}
        >
          {fmtTime(payload.value)}
        </text>
      )}
    </g>
  );
}

function YTick(props: any) {
  const { x, y, payload } = props;
  const major = payload.value % 10 === 0;
  return (
    <g>
      <line x1={x - (major ? 9 : 5)} y1={y} x2={x} y2={y} stroke={INK} strokeWidth={1.2} />
      {major && (
        <text x={x - 14.5} y={y + 4.5} textAnchor="end" fontSize={13} fontFamily={FONT} fill={INK}>
          {payload.value}
        </text>
      )}
    </g>
  );
}

export default function App() {
  return (
    <div style={{ position: "absolute", left: 0, top: 0, width: 1835, height: 913, background: "#fff" }}>
      <ComposedChart
        width={1835}
        height={913}
        data={rows}
        margin={{ top: 96, right: 33, bottom: 0, left: 0 }}
      >
        <XAxis
          dataKey="t"
          type="number"
          domain={[-59, 5729]}
          allowDataOverflow
          ticks={xMinorTicks}
          interval={0}
          height={90}
          tickSize={0}
          tickMargin={0}
          tickLine={false}
          tick={<XTick />}
          axisLine={{ stroke: INK, strokeWidth: 1.5 }}
        />
        <XAxis
          xAxisId="top"
          orientation="top"
          dataKey="t"
          type="number"
          domain={[-59, 5729]}
          height={1}
          tick={false}
          tickLine={false}
          axisLine={{ stroke: INK, strokeWidth: 1.5 }}
        />
        <YAxis
          type="number"
          domain={[50.39, 100.95]}
          allowDataOverflow
          ticks={yMinorTicks}
          interval={0}
          width={58}
          tickSize={0}
          tickMargin={0}
          tickLine={false}
          tick={<YTick />}
          axisLine={{ stroke: INK, strokeWidth: 1.5 }}
        />
        <YAxis
          yAxisId="right"
          orientation="right"
          type="number"
          domain={[50.39, 100.95]}
          width={1}
          tick={false}
          tickLine={false}
          axisLine={{ stroke: INK, strokeWidth: 1.5 }}
        />
        <Area
          type="linear"
          dataKey="band"
          stroke="none"
          fill="#ebebeb"
          fillOpacity={1}
          dot={false}
          activeDot={false}
          isAnimationActive={false}
        />
        <Line
          type="linear"
          dataKey="avg"
          stroke="#7d7d7d"
          strokeWidth={2.4}
          dot={false}
          activeDot={false}
          isAnimationActive={false}
        />
      </ComposedChart>
      <svg
        width={1835}
        height={913}
        style={{ position: "absolute", left: 0, top: 0, pointerEvents: "none" }}
      >
        <text x={935} y={24} textAnchor="middle" fontSize={22} fontWeight={700} fontFamily={FONT} fill="#111">
          Video Bitrate: 1-Second Window
        </text>
        <polygon points="68,63 68,55 76,53 87,51 87,63" fill="#ebebeb" />
        <text x={94} y={62} fontSize={14} fontFamily={FONT} fill={INK}>
          Max / Min
        </text>
        <line x1={193} y1={57.5} x2={212} y2={57.5} stroke="#7d7d7d" strokeWidth={2} />
        <text x={217} y={62} fontSize={14} fontFamily={FONT} fill={INK}>
          Average
        </text>
        <text
          transform="translate(15.5,459) rotate(-90)"
          textAnchor="middle"
          fontSize={14}
          fontFamily={FONT}
          fill={INK}
        >
          Bitrate (Mbps)
        </text>
        <text x={935} y={906} textAnchor="middle" fontSize={14} fontFamily={FONT} fill={INK}>
          Time
        </text>
      </svg>
    </div>
  );
}
